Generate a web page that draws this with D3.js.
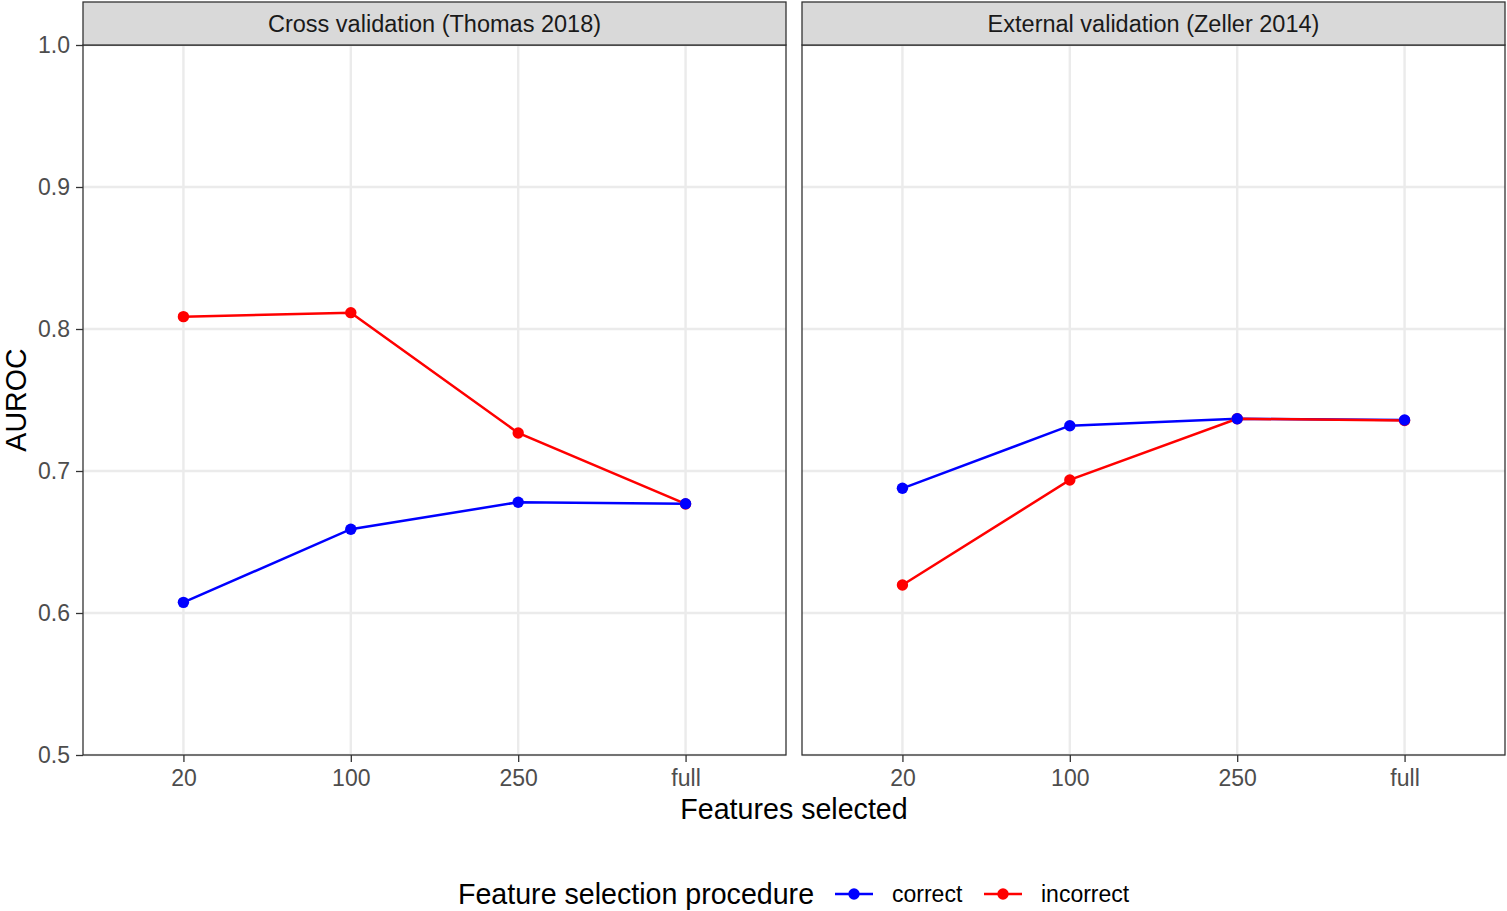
<!DOCTYPE html>
<html>
<head>
<meta charset="utf-8">
<script src="https://cdn.jsdelivr.net/npm/d3@7"></script>
<style>
  html, body { margin: 0; padding: 0; background: #fff; }
  svg { display: block; font-family: "Liberation Sans", Arial, Helvetica, sans-serif; }
</style>
</head>
<body>
<svg id="chart" width="1507" height="911"></svg>
<script>
const categories = ["20", "100", "250", "full"];
const panelTitles = ["Cross validation (Thomas 2018)", "External validation (Zeller 2014)"];
const seriesNames = ["correct", "incorrect"];
const seriesColors = ["#0000FF", "#FF0000"];
const cvCorrect = [0.6075, 0.659, 0.678, 0.677];
const cvIncorrect = [0.8087, 0.8115, 0.7268, 0.6768];
const evCorrect = [0.6878, 0.7319, 0.7368, 0.7359];
const evIncorrect = [0.6197, 0.6937, 0.7368, 0.7355];
const yTicks = [0.5, 0.6, 0.7, 0.8, 0.9, 1.0];
const yLabel = "AUROC";
const xLabel = "Features selected";
const legendTitle = "Feature selection procedure";

(function () {
const panelData = [[cvCorrect, cvIncorrect], [evCorrect, evIncorrect]];

const svg = d3.select("#chart");
const plotTop = 45, plotBottom = 755, stripTop = 2;
const panelX = [[83, 786], [802, 1505]];
const smallFont = 23, stripFont = 23.5, bigFont = 28.6;
const ptR = 5.7;

const y = d3.scaleLinear().domain([0.5, 1.0]).range([plotBottom, plotTop]);

panelX.forEach((px, pi) => {
  const x = d3.scalePoint().domain(categories).range(px).padding(0.6);
  const g = svg.append("g");

  g.append("rect").attr("x", px[0]).attr("y", plotTop).attr("width", px[1] - px[0]).attr("height", plotBottom - plotTop).attr("fill", "#fff");

  g.selectAll(".hg").data(yTicks).join("line")
    .attr("x1", px[0]).attr("x2", px[1])
    .attr("y1", d => y(d)).attr("y2", d => y(d))
    .attr("stroke", "#EBEBEB").attr("stroke-width", 2.4);
  g.selectAll(".vg").data(categories).join("line")
    .attr("x1", d => x(d)).attr("x2", d => x(d))
    .attr("y1", plotTop).attr("y2", plotBottom)
    .attr("stroke", "#EBEBEB").attr("stroke-width", 2.4);

  const line = d3.line().x((d, i) => x(categories[i])).y(d => y(d));
  panelData[pi].forEach((vals, si) => {
    g.append("path").datum(vals).attr("d", line)
      .attr("fill", "none").attr("stroke", seriesColors[si]).attr("stroke-width", 2.5);
  });
  [1, 0].forEach(si => {
    g.append("g").selectAll("circle").data(panelData[pi][si]).join("circle")
      .attr("cx", (d, i) => x(categories[i])).attr("cy", d => y(d))
      .attr("r", ptR).attr("fill", seriesColors[si]);
  });

  g.append("rect").attr("x", px[0]).attr("y", plotTop).attr("width", px[1] - px[0]).attr("height", plotBottom - plotTop)
    .attr("fill", "none").attr("stroke", "#333333").attr("stroke-width", 1.3);

  g.append("rect").attr("x", px[0]).attr("y", stripTop).attr("width", px[1] - px[0]).attr("height", plotTop - stripTop)
    .attr("fill", "#D9D9D9").attr("stroke", "#333333").attr("stroke-width", 1.3);
  g.append("text").attr("x", (px[0] + px[1]) / 2).attr("y", 32)
    .attr("text-anchor", "middle").attr("font-size", stripFont).attr("fill", "#1A1A1A")
    .text(panelTitles[pi]);

  const xa = svg.append("g").attr("transform", `translate(0,${plotBottom})`)
    .call(d3.axisBottom(x).tickSize(7).tickPadding(8).tickSizeOuter(0));
  xa.select(".domain").remove();
  xa.selectAll(".tick line").attr("stroke", "#333333").attr("stroke-width", 1.3);
  xa.selectAll(".tick text").attr("font-size", smallFont).attr("fill", "#4D4D4D").attr("font-family", null);

  if (pi === 0) {
    const ya = svg.append("g").attr("transform", `translate(${px[0]},0)`)
      .call(d3.axisLeft(y).tickValues(yTicks).tickFormat(d3.format(".1f")).tickSize(7).tickPadding(6).tickSizeOuter(0));
    ya.select(".domain").remove();
    ya.selectAll(".tick line").attr("stroke", "#333333").attr("stroke-width", 1.3);
    ya.selectAll(".tick text").attr("font-size", smallFont).attr("fill", "#4D4D4D").attr("font-family", null);
  }
});

svg.append("text").attr("x", (83 + 1505) / 2).attr("y", 819)
  .attr("text-anchor", "middle").attr("font-size", bigFont).attr("fill", "#000").text(xLabel);
svg.append("text").attr("transform", `translate(26,${(plotTop + plotBottom) / 2}) rotate(-90)`)
  .attr("text-anchor", "middle").attr("font-size", bigFont).attr("fill", "#000").text(yLabel);

const legY = 894;
svg.append("text").attr("x", 458).attr("y", 904).attr("font-size", bigFont).attr("fill", "#000").text(legendTitle);
const legKeys = [{ x0: 835, text: 892 }, { x0: 984, text: 1041 }];
seriesNames.forEach((name, i) => {
  const k = legKeys[i];
  svg.append("line").attr("x1", k.x0).attr("x2", k.x0 + 38).attr("y1", legY).attr("y2", legY)
    .attr("stroke", seriesColors[i]).attr("stroke-width", 2.5);
  svg.append("circle").attr("cx", k.x0 + 19).attr("cy", legY).attr("r", ptR).attr("fill", seriesColors[i]);
  svg.append("text").attr("x", k.text).attr("y", 902).attr("font-size", smallFont).attr("fill", "#000").text(name);
});
})();
</script>
</body>
</html>
